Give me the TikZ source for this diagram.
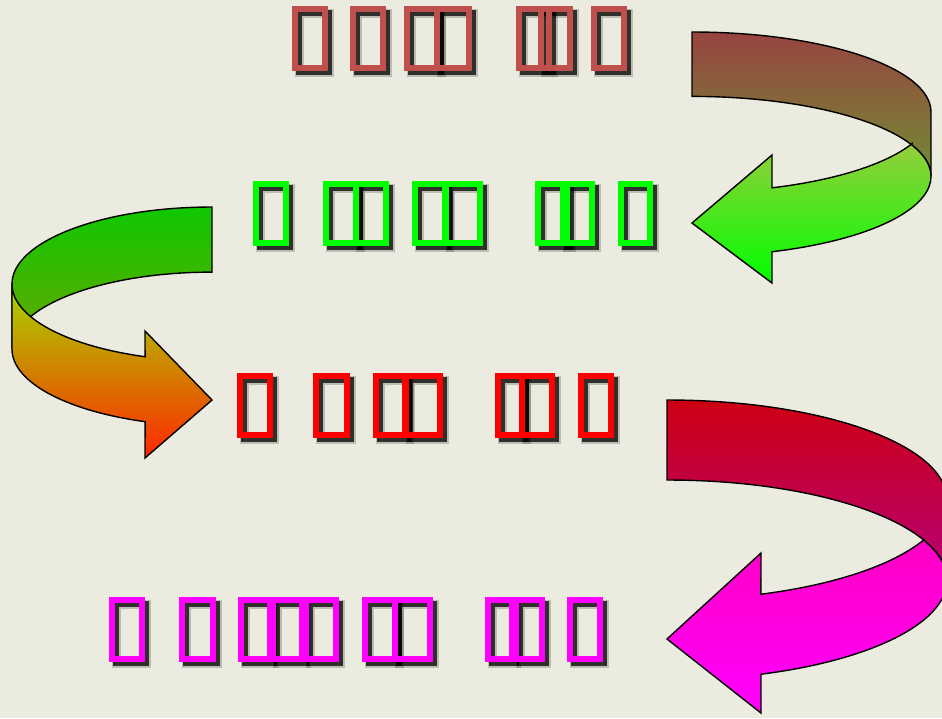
\documentclass[tikz,border=0pt]{standalone}
\usepackage{tikz}

\definecolor{paper}{RGB}{236,235,224}
\definecolor{rowA}{RGB}{192,80,77}
\definecolor{rowB}{RGB}{0,255,0}
\definecolor{rowC}{RGB}{255,0,0}
\definecolor{rowD}{RGB}{255,0,255}

\begin{document}
\begin{tikzpicture}[x=0.02cm, y=0.02cm,
    rim/.style={draw=black, line width=0.8pt, line join=miter},
    tofu/.style={line width=3.2pt},
    tofushade/.style={line width=3.6pt, draw=black, opacity=0.75},
    tofublur/.style={line width=5.2pt, draw=black, opacity=0.2}]
    \fill[paper] (0,0) rectangle (942,-718);
    \clip (0,0) rectangle (942,-718);

    % brown -> green, top right
    \shadedraw[rim, top color={rgb,255:red,152;green,68;blue,64}, bottom color={rgb,255:red,112;green,140;blue,52}]
        (692,-32) arc[start angle=90, end angle=0, x radius=239, y radius=80] -- (931,-176.4)
        arc[start angle=0, end angle=90, x radius=239, y radius=80] -- cycle;
    \shadedraw[rim, top color={rgb,255:red,150;green,205;blue,60}, bottom color={rgb,255:red,0;green,255;blue,0}]
        (912,-145.1) arc[start angle=23, end angle=-70.45, x radius=239, y radius=80]
        -- (772,-283) -- (692,-223) -- (772,-155) -- (772,-187.8)
        arc[start angle=-70.45, end angle=-23, x radius=239, y radius=80] -- cycle;

    % green -> orange, left
    \shadedraw[rim, top color={rgb,255:red,15;green,200;blue,0}, bottom color={rgb,255:red,105;green,165;blue,0}]
        (212,-207) arc[start angle=90, end angle=180, x radius=200, y radius=77] -- (12,-349.1)
        arc[start angle=180, end angle=90, x radius=200, y radius=77] -- cycle;
    \shadedraw[rim, top color={rgb,255:red,165;green,215;blue,0}, middle color={rgb,255:red,225;green,145;blue,0}, bottom color={rgb,255:red,255;green,40;blue,0}]
        (12,-284.1) -- (12,-349.1) arc[start angle=180, end angle=250.45, x radius=200, y radius=77]
        -- (145,-458) -- (212,-400) -- (145,-331) -- (145.06,-356.7)
        arc[start angle=250.45, end angle=180, x radius=200, y radius=77] -- cycle;

    % red -> magenta, bottom right
    \shadedraw[rim, top color={rgb,255:red,205;green,0;blue,18}, bottom color={rgb,255:red,182;green,0;blue,120}]
        (667,-400) arc[start angle=90, end angle=0, x radius=280, y radius=100] -- (947,-580)
        arc[start angle=0, end angle=90, x radius=280, y radius=100] -- cycle;
    \shadedraw[rim, top color={rgb,255:red,255;green,0;blue,195}, bottom color={rgb,255:red,255;green,0;blue,255}]
        (924,-540.3) arc[start angle=23.4, end angle=-70.4, x radius=280, y radius=100]
        -- (761,-713) -- (667,-639) -- (761,-553) -- (760.9,-594.2)
        arc[start angle=-70.4, end angle=-23.4, x radius=280, y radius=100] -- cycle;

    % the lines of missing glyphs
    \foreach \top/\col/\boxes in {
        6/rowA/{292/328,350/386,404/440,434/472,516/552,538/573,591/627},
        181/rowB/{253/289,323/359,353/389,412/448,443/483,535/570,560/595,618/653},
        373/rowC/{237/273,313/350,373/408,403/443,495/525,519/555,578/614},
        597/rowD/{109/145,179/216,238/273,270/305,303/339,362/398,392/433,485/515,513/545,567/603}} {
        \foreach \l/\r in \boxes {
            \draw[tofublur] (\l+7.15,-\top-7.15) rectangle (\r+1.45,-\top-66.45);
            \draw[tofushade] (\l+6.85,-\top-6.85) rectangle (\r+1.15,-\top-66.15);
        }
        \foreach \l/\r in \boxes
            \draw[tofu, draw=\col] (\l+2.85,-\top-2.85) rectangle (\r-2.85,-\top-62.15);
    }
\end{tikzpicture}
\end{document}
